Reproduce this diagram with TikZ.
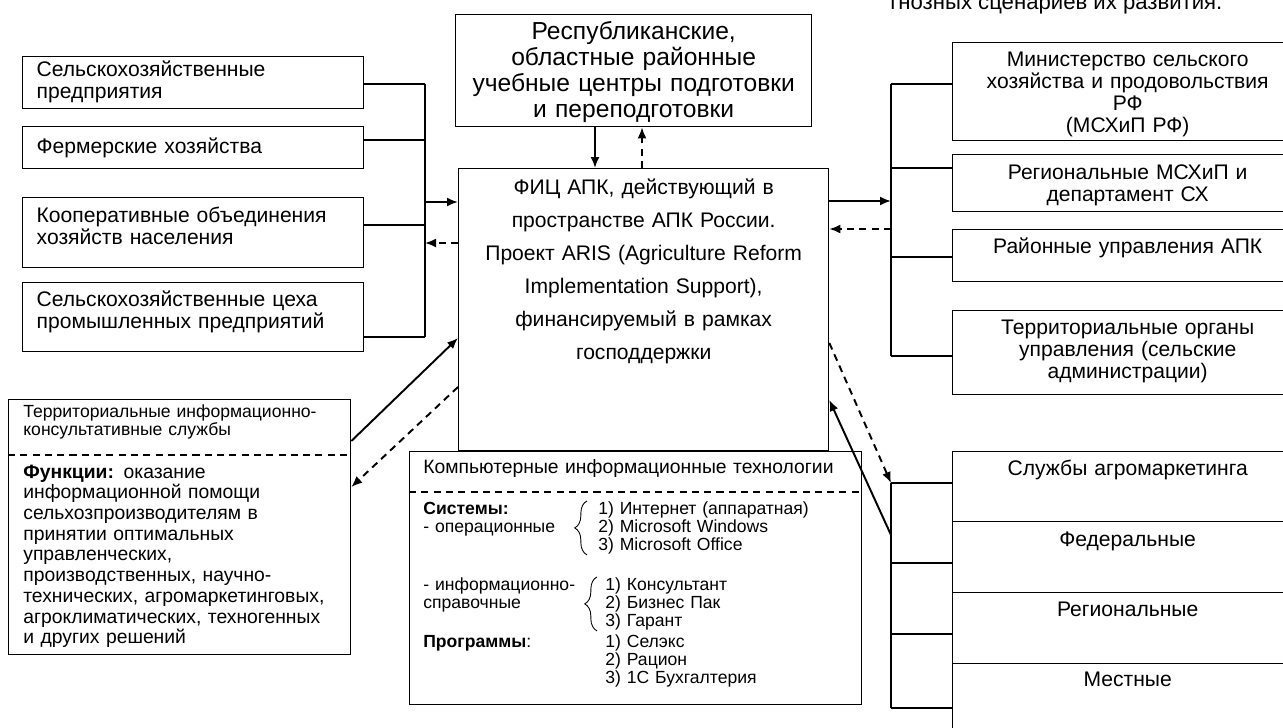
\documentclass[tikz,border=0pt]{standalone}
\usepackage{fontspec}
\setmainfont{Liberation Sans}
\usetikzlibrary{arrows.meta,decorations.pathreplacing}

\newcommand\fsmain{\fontsize{12}{12.5}\selectfont}
\newcommand\fstop{\fontsize{14}{14.8}\selectfont}
\newcommand\fscent{\fontsize{12}{18.8}\selectfont}
\newcommand\fskit{\fontsize{11}{12}\selectfont}
\newcommand\fskits{\fontsize{10}{10.5}\selectfont}
\newcommand\fstiks{\fontsize{10}{10.8}\selectfont}
\newcommand\fsfun{\fontsize{11}{11.8}\selectfont}
\newcommand\fshdr{\fontsize{12.6}{14}\selectfont}

\begin{document}
\begin{tikzpicture}[x=0.02cm,y=-0.02cm,>=Latex,
  box/.style={draw=black,line width=0.8pt,anchor=north west,inner ysep=0pt},
  lbox/.style={box,inner xsep=0.28cm,text width=6.26cm,align=left,font=\fsmain},
  rbox/.style={box,inner xsep=0pt,text width=7cm,align=center,font=\fsmain},
  txt/.style={anchor=base west,inner sep=0pt,align=left},
  bus/.style={line width=0.6pt},
  arr/.style={line width=1.1pt,-{Latex[length=2.2mm,width=1.8mm]}},
  dsh/.style={dash pattern=on 4pt off 3pt},
  brc/.style={decorate,decoration={brace,amplitude=7pt},line width=0.5pt}]
\useasboundingbox (0,0) rectangle (1283,727);
\fill[white] (0,0) rectangle (1283,727);
\clip (0,0) rectangle (1283,727);

\node[txt,font=\fshdr] (hdr) at (890,9) {гнозных сценариев их развития.};

% left group
\node[lbox,text height=0.40cm,text depth=0.64cm] (l1) at (22,56) {Сельскохозяйственные\\предприятия};
\node[lbox,text height=0.54cm,text depth=0.30cm] (l2) at (22,126) {Фермерские хозяйства};
\node[lbox,text height=0.50cm,text depth=0.90cm] (l3) at (22,197) {Кооперативные объединения\\хозяйств населения};
\node[lbox,text height=0.48cm,text depth=0.90cm] (l4) at (22,282) {Сельскохозяйственные цеха\\промышленных предприятий};

% centre
\node[box,inner xsep=0pt,text width=7.12cm,align=center,font=\fstop,text height=0.50cm,text depth=1.74cm] (uc) at (455,14) {Республиканские,\\областные районные\\учебные центры подготовки\\и переподготовки};
\node[box,inner xsep=0pt,text width=7.4cm,align=center,font=\fscent,text height=0.52cm,text depth=5.12cm] (fic) at (458,168) {ФИЦ АПК, действующий в\\пространстве АПК России.\\Проект ARIS (Agriculture Reform\\Implementation Support),\\финансируемый в рамках\\господдержки};

% right group
\node[rbox,text height=0.48cm,text depth=1.48cm] (r1) at (952,42) {Министерство сельского\\хозяйства и продовольствия\\РФ\\(МСХиП РФ)};
\node[rbox,text height=0.50cm,text depth=0.64cm] (r2) at (952,154) {Региональные МСХиП и\\департамент СХ};
\node[rbox,text height=0.48cm,text depth=0.56cm] (r3) at (952,229) {Районные управления АПК};
\node[rbox,text height=0.48cm,text depth=1.20cm] (r4) at (952,310) {Территориальные органы\\управления (сельские\\администрации)};
\node[rbox,text height=0.48cm,text depth=0.92cm] (s1) at (952,451) {Службы агромаркетинга};
\node[rbox,text height=0.50cm,text depth=0.92cm] (s2) at (952,521) {Федеральные};
\node[rbox,text height=0.48cm,text depth=0.94cm] (s3) at (952,592) {Региональные};
\node[rbox,text height=0.46cm,text depth=1.48cm] (s4) at (952,663) {Местные};

% consulting services
\node[box,minimum width=6.84cm,minimum height=5.1cm] (tk) at (8,399) {};
\node[txt,font=\fstiks,text width=6.5cm] (tkt) at (23,417) {Территориальные информационно-\\консультативные службы};
\draw[dsh,line width=0.8pt] (tk.north west) ++(0,56) coordinate (tkd) -- (tkd -| tk.east);
\node[txt,font=\fsfun,text width=6.5cm] (tkf) at (23,478) {\textbf{Функции:} оказание\\информационной помощи\\сельхозпроизводителям в\\принятии оптимальных\\управленческих,\\производственных, научно-\\технических, агромаркетинговых,\\агроклиматических, техногенных\\и других решений};

% computer technologies
\node[box,minimum width=9.04cm,minimum height=5.06cm] (kit) at (409,451) {};
\node[txt,font=\fskit,text width=8.6cm] (kitt) at (423,473) {Компьютерные информационные технологии};
\draw[dsh,line width=0.8pt] (kit.north west) ++(0,41) coordinate (kitd) -- (kitd -| kit.east);
\node[txt,font=\fskits,text width=3cm] (sys) at (423,514) {\textbf{Системы:}\\- операционные};
\node[txt,font=\fskits,text width=4.5cm] (osl) at (598,514) {1) Интернет (аппаратная)\\2) Microsoft Windows\\3) Microsoft Office};
\draw[brc] ([xshift=-0.22cm]osl.south west) -- ([xshift=-0.22cm]osl.north west);
\node[txt,font=\fskits,text width=3.2cm] (inf) at (423,590) {- информационно-\\справочные};
\node[txt,font=\fskits,text width=4cm] (infl) at (605,590) {1) Консультант\\2) Бизнес Пак\\3) Гарант};
\draw[brc] ([xshift=-0.16cm]infl.south west) -- ([xshift=-0.16cm]infl.north west);
\node[txt,font=\fskits,text width=3cm] (prg) at (423,647) {\textbf{Программы}:};
\node[txt,font=\fskits,text width=4cm] (prgl) at (605,647) {1) Селэкс\\2) Рацион\\3) 1С Бухгалтерия};

% buses
\coordinate (lbus) at (425,0);
\coordinate (rbus) at (891,0);
\foreach \b/\o in {l1/28,l2/14,l3/28,l4/55}
  \draw[bus] (\b.north east) ++(0,\o) coordinate (c\b) -- (c\b -| lbus);
\draw[bus] (cl1 -| lbus) -- (cl4 -| lbus);
\foreach \b/\o in {r1/42,r2/14,r3/28,r4/46,s1/32,s2/42,s3/42,s4/45}
  \draw[bus] (\b.north west) ++(0,\o) coordinate (c\b) -- (c\b -| rbus);
\draw[bus] (cr1 -| rbus) -- (cr4 -| rbus);
\draw[bus] (cs1 -| rbus) -- (cs4 -| rbus);

% arrows
\path (fic.north west) ++(0,34) coordinate (fl1) ++(0,41) coordinate (fl2);
\draw[arr] (fl1 -| lbus) -- (fl1);
\draw[arr,dsh] (fl2) -- (fl2 -| lbus);
\path (fic.north east) ++(0,33) coordinate (fr1) ++(0,28) coordinate (fr2);
\draw[arr] (fr1) -- (fr1 -| rbus);
\draw[arr,dsh] (fr2 -| rbus) -- (fr2);
\path (uc.south west) ++(140,0) coordinate (ut1);
\draw[arr] (ut1) -- (ut1 |- fic.north);
\path (fic.north west) ++(184,0) coordinate (ut2);
\draw[arr,dsh] (ut2) -- (ut2 |- uc.south);
\path (tk.north east) ++(0,42) coordinate (tk1) ++(0,46) coordinate (tk2);
\path (fic.north west) ++(0,170) coordinate (fl3) ++(0,49) coordinate (fl4);
\draw[arr] (tk1) -- (fl3);
\draw[arr,dsh] (fl4) -- (tk2);
\path (fic.north east) ++(0,175) coordinate (fr3) ++(0,57) coordinate (fr4);
\path (s1.north west) ++(0,84) coordinate (cs0);
\draw[arr] (cs0 -| rbus) -- (fr4);
\draw[arr,dsh] (fr3) -- (cs1 -| rbus);
\end{tikzpicture}
\end{document}
